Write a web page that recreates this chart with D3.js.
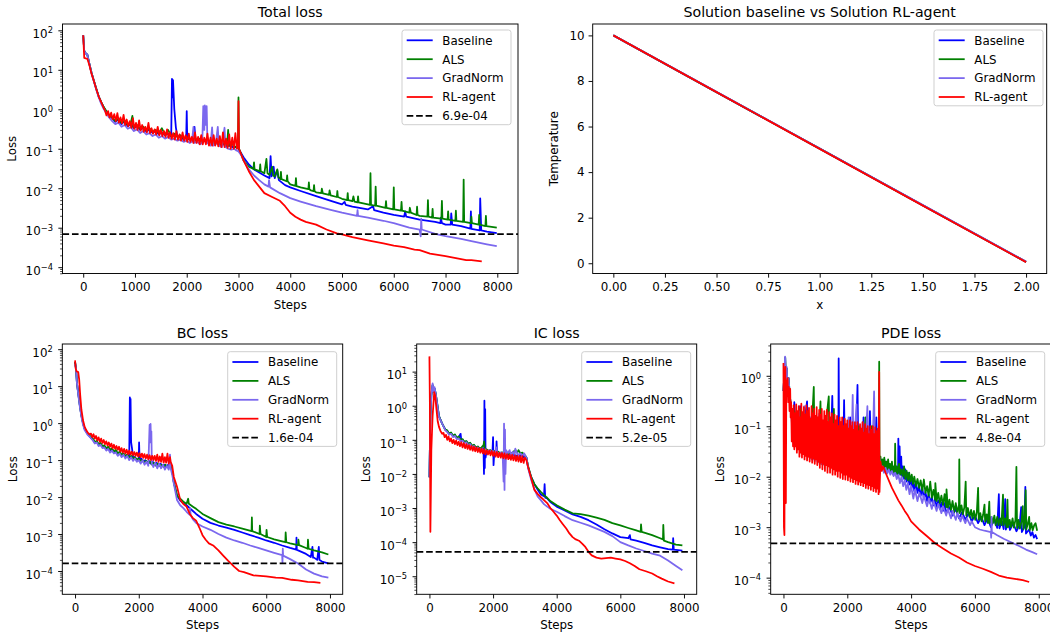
<!DOCTYPE html>
<html><head><meta charset="utf-8">
<script src="https://cdn.jsdelivr.net/npm/d3@7"></script>
<style>
html,body{margin:0;padding:0;background:#fff;}
svg{display:block;font-family:"DejaVu Sans",sans-serif;}
</style></head><body>
<svg id="chart" width="1050" height="634"></svg>
<script>
// ---------------- DATA ----------------
const seriesNames = ["Baseline", "ALS", "GradNorm", "RL-agent"];

// Total loss: [step, loss]
const totalBaseline = [[0,75],[20,30],[50,26],[80,24],[120,14],[160,8.5],[200,5.6],[250,3.4],[300,2.1],[350,1.5],[400,1.1],[450,0.85],[500,0.7],
[560,0.6],[620,0.48],[680,0.55],[740,0.42],[800,0.5],[860,0.37],[920,0.42],[980,0.33],[1040,0.38],[1100,0.3],[1160,0.34],[1220,0.27],[1280,0.31],[1340,0.25],[1400,0.28],[1460,0.23],[1520,0.26],[1580,0.22],[1640,0.24],[1700,0.2],[1715,5.9],[1725,2.0],[1735,5.5],[1760,1.0],[1790,0.35],[1820,0.2],[1880,0.2],[1940,0.17],[1990,0.19],[2000,0.9],[2010,0.17],[2060,0.18],[2120,0.16],[2150,0.36],[2170,0.16],[2230,0.17],[2290,0.15],[2350,0.16],[2410,0.14],[2470,0.15],[2530,0.13],[2590,0.14],[2650,0.12],[2710,0.13],[2770,0.115],[2830,0.12],[2890,0.11],[2950,0.11],[3000,0.1],
[3100,0.06],[3200,0.04],[3300,0.03],[3400,0.025],[3500,0.021],[3600,0.018],[3620,0.065],[3640,0.02],[3680,0.035],[3700,0.018],[3750,0.028],[3780,0.016],[3900,0.012],[4000,0.0105],[4200,0.0085],[4500,0.0063],[4800,0.0047],[5000,0.0039],[5050,0.0045],[5070,0.0038],[5200,0.0034],[5500,0.0029],[5600,0.0035],[5620,0.0028],[5800,0.0024],[6000,0.0021],[6200,0.0019],[6220,0.0026],[6240,0.0019],[6500,0.0016],[6800,0.0014],[6900,0.0013],[6910,0.0018],[6930,0.0013],[7000,0.0012],[7100,0.0012],[7110,0.0023],[7130,0.0012],[7300,0.0011],[7480,0.00095],[7490,0.0026],[7500,0.00093],[7660,0.00085],[7670,0.0055],[7690,0.00085],[7800,0.0008],[7990,0.00073]];

const totalALS = [[0,75],[20,30],[50,26],[80,24],[120,14],[160,8.5],[200,5.6],[250,3.4],[300,2.1],[350,1.5],[400,1.12],[450,0.88],[500,0.72],
[560,0.62],[620,0.5],[680,0.58],[740,0.45],[800,0.52],[860,0.4],[920,0.45],[950,0.68],[970,0.35],[1040,0.4],[1100,0.32],[1160,0.36],[1220,0.29],[1280,0.33],[1340,0.27],[1400,0.3],[1460,0.25],[1520,0.33],[1580,0.23],[1640,0.3],[1700,0.21],[1760,0.24],[1820,0.2],[1880,0.22],[1940,0.18],[2000,0.2],[2060,0.17],[2120,0.19],[2180,0.16],[2240,0.18],[2300,0.15],[2360,0.17],[2420,0.14],[2480,0.16],[2540,0.13],[2600,0.15],[2660,0.13],[2720,0.14],[2780,0.12],[2800,0.3],[2820,0.12],[2880,0.13],[2940,0.11],[2990,0.12],[3000,2.0],[3010,0.1],
[3100,0.05],[3200,0.035],[3290,0.031],[3300,0.045],[3310,0.03],[3410,0.027],[3420,0.04],[3430,0.027],[3500,0.024],[3540,0.055],[3560,0.024],[3600,0.022],[3650,0.035],[3670,0.021],[3700,0.02],[3750,0.03],[3770,0.019],[3800,0.018],[3810,0.017],[3820,0.026],[3830,0.017],[3930,0.015],[3940,0.021],[3950,0.015],[4000,0.0125],[4100,0.0115],[4110,0.018],[4120,0.0113],[4200,0.0105],[4350,0.0095],[4360,0.014],[4370,0.0094],[4400,0.0088],[4450,0.0085],[4460,0.012],[4470,0.0084],[4500,0.0079],[4600,0.0075],[4610,0.0097],[4630,0.0074],[4750,0.0068],[4760,0.0088],[4780,0.0066],[4900,0.006],[4910,0.0085],[4920,0.006],[5000,0.0054],[5100,0.005],[5110,0.0075],[5120,0.005],[5200,0.0047],[5220,0.0062],[5240,0.0046],[5300,0.0044],[5310,0.0062],[5320,0.0044],[5500,0.0039],[5540,0.0038],[5550,0.024],[5560,0.0038],[5640,0.0036],[5650,0.011],[5660,0.0036],[5840,0.0032],[5850,0.0047],[5860,0.0032],[5990,0.0029],[6000,0.0105],[6010,0.0029],[6140,0.0027],[6150,0.0045],[6160,0.0027],[6300,0.0024],[6310,0.0032],[6330,0.0024],[6440,0.0021],[6450,0.0034],[6460,0.0021],[6500,0.002],[6650,0.0019],[6660,0.005],[6670,0.0019],[6740,0.0018],[6750,0.003],[6760,0.0018],[6920,0.0017],[6930,0.0048],[6940,0.0017],[7040,0.0016],[7050,0.0026],[7060,0.0016],[7190,0.0015],[7200,0.0027],[7210,0.0015],[7340,0.0014],[7350,0.0166],[7360,0.0014],[7490,0.0013],[7500,0.0019],[7510,0.0013],[7640,0.0012],[7650,0.0021],[7660,0.0012],[7770,0.0011],[7780,0.002],[7790,0.0011],[7990,0.001]];

const totalGradNorm = [[0,75],[20,30],[50,26],[80,24],[120,14],[160,8.3],[200,5.4],[250,3.2],[300,2.0],[350,1.35],[400,1.0],[450,0.78],[500,0.62],
[560,0.5],[620,0.42],[680,0.46],[740,0.36],[800,0.4],[860,0.32],[920,0.35],[980,0.28],[1040,0.31],[1100,0.25],[1160,0.28],[1220,0.23],[1280,0.25],[1340,0.21],[1400,0.23],[1460,0.19],[1520,0.21],[1580,0.18],[1640,0.2],[1700,0.17],[1760,0.18],[1820,0.16],[1880,0.17],[1940,0.15],[2000,0.16],[2060,0.14],[2100,0.15],[2130,0.36],[2150,0.14],[2200,0.15],[2260,0.13],[2300,0.14],[2320,1.2],[2340,0.3],[2350,1.25],[2370,0.4],[2385,1.2],[2400,0.14],[2460,0.12],[2490,0.35],[2510,0.12],[2560,0.13],[2600,0.36],[2620,0.12],[2680,0.11],[2730,0.34],[2750,0.11],[2800,0.1],[2860,0.095],[2920,0.1],[2960,0.09],[3000,0.085],
[3050,0.07],[3100,0.05],[3200,0.03],[3300,0.021],[3400,0.016],[3500,0.0125],[3580,0.011],[3590,0.016],[3610,0.0105],[3800,0.0075],[4000,0.0056],[4200,0.0046],[4500,0.0035],[4800,0.0028],[5000,0.0024],[5290,0.002],[5300,0.0028],[5310,0.002],[5500,0.0018],[5800,0.0015],[6000,0.0013],[6300,0.001],[6500,0.0009],[6520,0.0006],[6530,0.0017],[6540,0.0009],[6800,0.0007],[7000,0.00061],[7300,0.00052],[7500,0.00046],[7800,0.00038],[7990,0.00034]];

const totalRL = [[0,75],[20,20],[80,19],[120,13],[160,8],[200,5.5],[250,3.3],[300,2.1],[350,1.5],[400,1.05],
[420,0.95],[450,0.7],[480,0.9],[510,0.62],[540,0.82],[570,0.56],[600,0.75],[630,0.5],[660,0.8],[690,0.46],[720,0.62],[750,0.44],[780,0.72],[810,0.4],[840,0.55],[870,0.37],[900,0.5],[930,0.34],[960,0.6],[990,0.32],[1020,0.45],[1050,0.3],[1080,0.52],[1110,0.29],[1140,0.4],[1170,0.27],[1200,0.36],[1230,0.26],[1260,0.45],[1290,0.25],[1320,0.33],[1350,0.24],[1380,0.31],[1410,0.23],[1440,0.36],[1470,0.22],[1500,0.3],[1530,0.21],[1560,0.28],[1590,0.2],[1620,0.31],[1650,0.19],[1680,0.26],[1710,0.18],[1740,0.25],[1770,0.17],[1800,0.28],[1830,0.17],[1860,0.23],[1890,0.16],[1920,0.26],[1950,0.16],[1980,0.22],[2010,0.15],[2040,0.24],[2070,0.15],[2100,0.2],[2130,0.14],[2160,0.26],[2190,0.14],[2220,0.2],[2250,0.13],[2280,0.22],[2310,0.13],[2340,0.19],[2370,0.13],[2400,0.24],[2430,0.12],[2460,0.19],[2490,0.12],[2520,0.22],[2550,0.12],[2580,0.18],[2610,0.115],[2640,0.21],[2670,0.11],[2700,0.26],[2730,0.11],[2760,0.18],[2790,0.105],[2820,0.23],[2850,0.1],[2880,0.19],[2910,0.1],[2940,0.25],[2970,0.1],[2990,0.13],
[3000,1.6],[3010,0.1],[3100,0.05],[3200,0.027],[3300,0.016],[3400,0.011],[3500,0.0075],[3650,0.006],[3800,0.0048],[3900,0.0035],[4000,0.0024],[4100,0.0019],[4200,0.0016],[4300,0.0014],[4500,0.0012],[4700,0.0009],[4900,0.00072],[5000,0.00068],[5200,0.00058],[5500,0.00048],[5800,0.0004],[6000,0.00035],[6200,0.00032],[6400,0.00028],[6500,0.00027],[6700,0.00022],[7000,0.00019],[7200,0.00017],[7400,0.00015],[7500,0.00015],[7700,0.00014]];
const totalThreshold = 6.9e-4;

// Solution: x vs temperature
const solX = [0, 0.5, 1.0, 1.5, 2.0];
const solBaseline = [10.0, 7.51, 5.03, 2.54, 0.06];
const solALS = [10.0, 7.51, 5.03, 2.54, 0.06];
const solGradNorm = [10.0, 7.52, 5.04, 2.55, 0.07];
const solRL = [10.0, 7.51, 5.02, 2.53, 0.05];

// BC loss
const bcBaseline = [[0,45],[30,30],[60,12],[100,6.5],[150,3],[200,1.6],[250,1.0],[300,0.7],[400,0.5],[500,0.4],
[560,0.36],[620,0.3],[680,0.32],[740,0.26],[800,0.28],[860,0.23],[920,0.24],[980,0.2],[1040,0.22],[1100,0.18],[1160,0.2],[1220,0.16],[1280,0.18],[1340,0.15],[1400,0.16],[1460,0.13],[1520,0.15],[1580,0.12],[1640,0.14],[1700,0.12],[1720,5],[1732,0.6],[1742,4.5],[1760,0.3],[1790,0.2],[1820,0.12],[1880,0.12],[1940,0.1],[2000,0.11],[2010,0.3],[2025,0.1],[2080,0.11],[2140,0.09],[2200,0.1],[2260,0.085],[2320,0.095],[2380,0.08],[2440,0.09],[2500,0.075],[2560,0.085],[2620,0.07],[2680,0.08],[2740,0.07],[2800,0.075],[2860,0.065],[2920,0.075],[2980,0.07],[3000,0.08],
[3050,0.05],[3100,0.025],[3200,0.011],[3300,0.008],[3400,0.0068],[3500,0.006],[3600,0.005],[3700,0.0042],[3800,0.0035],[4000,0.0026],[4250,0.002],[4500,0.0017],[4750,0.0015],[5000,0.0013],[5250,0.0011],[5500,0.00093],[5750,0.0008],[6000,0.00067],[6250,0.00058],[6500,0.00049],[6750,0.00042],[6940,0.00038],[6950,0.0008],[6960,0.00037],[7000,0.00036],[7250,0.00029],[7400,0.00024],[7450,0.00045],[7470,0.00023],[7500,0.00023],[7600,0.0002],[7650,0.00045],[7670,0.0002],[7750,0.00018],[7950,0.00016]];

const bcALS = [[0,45],[30,30],[60,12],[100,6.5],[150,3],[200,1.6],[250,1.0],[300,0.72],[400,0.52],[500,0.42],
[560,0.38],[620,0.31],[680,0.33],[740,0.27],[800,0.29],[860,0.24],[920,0.25],[980,0.21],[1040,0.23],[1100,0.19],[1160,0.21],[1220,0.17],[1280,0.19],[1340,0.15],[1400,0.17],[1460,0.14],[1520,0.15],[1580,0.13],[1640,0.14],[1700,0.12],[1760,0.13],[1820,0.11],[1880,0.12],[1940,0.1],[2000,0.11],[2060,0.095],[2120,0.1],[2180,0.085],[2240,0.095],[2300,0.08],[2360,0.09],[2420,0.075],[2480,0.085],[2540,0.07],[2600,0.08],[2660,0.07],[2720,0.075],[2780,0.065],[2840,0.075],[2900,0.065],[2960,0.07],[3000,0.075],
[3050,0.05],[3100,0.025],[3200,0.011],[3300,0.009],[3400,0.0075],[3500,0.0066],[3550,0.009],[3570,0.0066],[3700,0.0055],[3800,0.0048],[4000,0.0035],[4250,0.0027],[4500,0.0021],[4750,0.0018],[5000,0.0016],[5250,0.0014],[5540,0.0012],[5550,0.0028],[5560,0.0012],[5790,0.001],[5800,0.0017],[5820,0.001],[6000,0.00083],[6010,0.0013],[6030,0.00083],[6250,0.00072],[6500,0.00063],[6600,0.0006],[6610,0.0011],[6630,0.0006],[6750,0.00056],[7000,0.0005],[7010,0.0007],[7030,0.0005],[7250,0.00042],[7300,0.0004],[7310,0.0007],[7330,0.0004],[7500,0.00036],[7750,0.00032],[7950,0.00028]];

const bcGradNorm = [[0,40],[30,30],[60,12],[100,6],[150,2.8],[200,1.5],[250,0.9],[300,0.65],[400,0.48],[500,0.39],
[560,0.34],[620,0.28],[680,0.3],[740,0.24],[800,0.26],[860,0.21],[920,0.22],[980,0.18],[1040,0.2],[1100,0.16],[1160,0.18],[1220,0.15],[1280,0.16],[1340,0.13],[1400,0.15],[1460,0.12],[1520,0.14],[1580,0.11],[1640,0.13],[1700,0.1],[1760,0.12],[1820,0.095],[1880,0.11],[1940,0.09],[2000,0.1],[2060,0.08],[2120,0.1],[2180,0.075],[2240,0.09],[2300,0.07],[2340,0.9],[2355,0.3],[2370,0.95],[2385,0.3],[2395,0.6],[2410,0.08],[2460,0.065],[2520,0.085],[2580,0.06],[2640,0.08],[2700,0.06],[2760,0.075],[2820,0.055],[2880,0.07],[2940,0.055],[2980,0.14],[3000,0.06],
[3050,0.04],[3100,0.023],[3200,0.0083],[3300,0.006],[3400,0.005],[3500,0.004],[3600,0.0033],[3610,0.005],[3630,0.0032],[3700,0.0025],[3800,0.002],[4000,0.0016],[4250,0.0013],[4500,0.001],[4750,0.0008],[5000,0.00067],[5250,0.00058],[5500,0.00049],[5750,0.00042],[6000,0.00036],[6250,0.00031],[6500,0.00027],[6510,0.00017],[6520,0.0004],[6530,0.00026],[6750,0.00021],[7000,0.00016],[7250,0.00011],[7500,0.000085],[7750,0.000072],[7950,0.000066]];

const bcRL = [[0,50],[20,30],[50,25],[100,24],[130,15],[160,6],[200,2.3],[250,1.2],[300,0.8],[350,0.65],[400,0.55],[450,0.5],
[500,0.52],[540,0.42],[580,0.5],[620,0.38],[660,0.45],[700,0.34],[740,0.41],[780,0.31],[820,0.38],[860,0.29],[900,0.35],[940,0.27],[980,0.32],[1020,0.25],[1060,0.3],[1100,0.23],[1140,0.28],[1180,0.21],[1220,0.26],[1260,0.2],[1300,0.24],[1340,0.19],[1380,0.23],[1420,0.17],[1460,0.21],[1500,0.16],[1540,0.2],[1580,0.15],[1620,0.19],[1660,0.145],[1700,0.18],[1740,0.14],[1780,0.17],[1820,0.135],[1860,0.165],[1900,0.13],[1940,0.16],[1980,0.125],[2020,0.155],[2060,0.12],[2100,0.15],[2140,0.115],[2180,0.145],[2220,0.11],[2260,0.14],[2300,0.105],[2340,0.135],[2380,0.1],[2420,0.13],[2460,0.1],[2500,0.13],[2540,0.095],[2580,0.14],[2620,0.09],[2660,0.125],[2700,0.09],[2740,0.15],[2780,0.085],[2820,0.12],[2860,0.085],[2900,0.15],[2940,0.08],[2980,0.12],[3000,0.09],
[3050,0.07],[3100,0.035],[3200,0.019],[3300,0.0085],[3400,0.0065],[3500,0.0055],[3600,0.0035],[3700,0.0027],[3800,0.0023],[3900,0.0015],[4000,0.00093],[4100,0.0007],[4200,0.00056],[4350,0.00048],[4500,0.00036],[4650,0.00026],[4800,0.00019],[5000,0.00013],[5150,0.0001],[5300,0.000093],[5600,0.000076],[6000,0.000072],[6300,0.000066],[6500,0.000065],[6800,0.000058],[7000,0.000056],[7300,0.000051],[7500,0.00005],[7700,0.000048]];
const bcThreshold = 1.6e-4;

// IC loss
const icBaseline = [[0,0.008],[30,0.5],[60,2],[100,4],[130,2.5],[160,3.2],[200,2.2],[250,1.0],[300,0.5],[400,0.3],[500,0.2],
[560,0.18],[620,0.15],[680,0.16],[740,0.13],[800,0.14],[860,0.11],[920,0.12],[980,0.15],[1000,0.1],[1040,0.1],[1100,0.085],[1160,0.09],[1220,0.075],[1280,0.08],[1340,0.065],[1400,0.07],[1460,0.058],[1520,0.062],[1580,0.053],[1640,0.057],[1700,0.05],[1715,0.01],[1728,1.4],[1740,0.015],[1752,0.8],[1765,0.03],[1800,0.05],[1860,0.045],[1920,0.048],[1980,0.042],[2000,0.12],[2015,0.018],[2040,0.045],[2100,0.04],[2110,0.09],[2125,0.04],[2180,0.042],[2240,0.038],[2300,0.041],[2360,0.036],[2420,0.04],[2480,0.035],[2540,0.039],[2600,0.034],[2660,0.038],[2720,0.033],[2780,0.037],[2840,0.032],[2900,0.036],[2960,0.031],[3000,0.035],
[3050,0.03],[3100,0.016],[3200,0.008],[3300,0.005],[3400,0.0035],[3500,0.0025],[3600,0.0022],[3620,0.005],[3640,0.002],[3700,0.0019],[3800,0.0015],[4000,0.0011],[4250,0.00085],[4500,0.00065],[4750,0.00055],[5000,0.00044],[5250,0.00033],[5500,0.00024],[5750,0.00018],[6000,0.00014],[6250,0.00013],[6300,0.00016],[6320,0.00012],[6500,0.00011],[6750,0.000095],[7000,0.00008],[7250,0.00007],[7500,0.000062],[7650,0.00006],[7660,0.00013],[7680,0.00006],[7950,0.000056]];

const icALS = [[0,0.008],[30,0.5],[60,2],[100,4],[130,2.5],[160,3.2],[200,2.2],[250,1.1],[300,0.5],[400,0.3],[500,0.2],
[560,0.19],[620,0.15],[680,0.165],[740,0.13],[800,0.145],[860,0.115],[920,0.125],[980,0.1],[1040,0.105],[1100,0.087],[1160,0.092],[1220,0.077],[1280,0.082],[1340,0.067],[1400,0.072],[1460,0.06],[1520,0.064],[1580,0.055],[1640,0.06],[1700,0.07],[1720,0.09],[1740,0.055],[1800,0.052],[1860,0.048],[1920,0.05],[1980,0.045],[2040,0.047],[2100,0.042],[2160,0.045],[2220,0.04],[2280,0.043],[2340,0.039],[2400,0.042],[2460,0.038],[2520,0.041],[2580,0.04],[2640,0.045],[2700,0.05],[2760,0.042],[2800,0.05],[2860,0.04],[2920,0.042],[2980,0.036],[3000,0.035],
[3050,0.03],[3100,0.017],[3200,0.008],[3300,0.005],[3400,0.0038],[3500,0.003],[3600,0.0024],[3700,0.002],[3800,0.0016],[4000,0.0012],[4250,0.0009],[4500,0.0007],[4750,0.00066],[5000,0.0006],[5250,0.00052],[5500,0.00045],[5750,0.00036],[6000,0.00031],[6250,0.00026],[6500,0.00022],[6640,0.0002],[6650,0.00033],[6670,0.0002],[6750,0.00019],[7000,0.00016],[7250,0.00013],[7340,0.00012],[7350,0.00032],[7370,0.00011],[7500,0.0001],[7750,0.000085],[7950,0.00008]];

const icGradNorm = [[0,0.008],[30,0.5],[60,2],[100,4.5],[130,2.5],[160,3.5],[200,2.2],[250,1.0],[300,0.47],[400,0.3],[500,0.19],
[560,0.17],[620,0.14],[680,0.15],[740,0.12],[800,0.13],[860,0.105],[920,0.11],[980,0.09],[1040,0.095],[1100,0.08],[1160,0.085],[1220,0.07],[1280,0.075],[1340,0.062],[1400,0.066],[1460,0.055],[1520,0.06],[1580,0.05],[1640,0.055],[1700,0.047],[1760,0.052],[1820,0.045],[1880,0.05],[1940,0.043],[2000,0.047],[2060,0.04],[2100,0.06],[2120,0.045],[2180,0.038],[2240,0.043],[2300,0.04],[2330,0.006],[2345,0.3],[2360,0.0034],[2375,0.2],[2390,0.01],[2410,0.05],[2460,0.04],[2520,0.05],[2560,0.035],[2620,0.045],[2680,0.036],[2700,0.055],[2740,0.043],[2800,0.035],[2860,0.04],[2920,0.034],[2980,0.04],[3000,0.035],
[3050,0.03],[3100,0.015],[3200,0.0066],[3300,0.0035],[3400,0.0022],[3500,0.0017],[3600,0.0013],[3700,0.0011],[3800,0.00095],[4000,0.00078],[4250,0.00058],[4500,0.00044],[4750,0.00037],[5000,0.00031],[5250,0.00025],[5500,0.0002],[5750,0.00015],[6000,0.0001],[6250,0.00008],[6500,0.000065],[6750,0.000055],[7000,0.000046],[7250,0.00004],[7500,0.000029],[7750,0.00002],[7950,0.000015]];

const icRL = [[0,28],[15,1],[30,0.0002],[45,0.003],[60,0.05],[100,0.5],[150,2.5],[180,2.0],[220,0.8],[260,0.35],[300,0.24],[350,0.18],[400,0.15],
[440,0.16],[480,0.12],[520,0.14],[560,0.1],[600,0.125],[640,0.09],[680,0.11],[720,0.08],[760,0.1],[800,0.075],[840,0.095],[880,0.07],[920,0.088],[960,0.065],[1000,0.085],[1040,0.06],[1080,0.08],[1120,0.057],[1160,0.075],[1200,0.054],[1240,0.07],[1280,0.051],[1320,0.066],[1360,0.048],[1400,0.063],[1440,0.046],[1480,0.06],[1520,0.044],[1560,0.057],[1600,0.042],[1640,0.055],[1680,0.04],[1720,0.053],[1760,0.038],[1800,0.05],[1840,0.037],[1880,0.048],[1920,0.035],[1960,0.047],[2000,0.034],[2040,0.045],[2080,0.032],[2120,0.044],[2160,0.031],[2200,0.042],[2240,0.03],[2280,0.041],[2320,0.029],[2360,0.04],[2400,0.028],[2440,0.038],[2480,0.027],[2520,0.037],[2560,0.026],[2600,0.036],[2640,0.025],[2680,0.035],[2720,0.024],[2760,0.034],[2800,0.023],[2840,0.034],[2880,0.022],[2920,0.033],[2960,0.021],[3000,0.03],
[3050,0.025],[3100,0.016],[3200,0.0074],[3300,0.0034],[3400,0.0026],[3500,0.0021],[3600,0.0017],[3700,0.0014],[3800,0.001],[3900,0.00078],[4000,0.0006],[4100,0.00044],[4200,0.00033],[4300,0.00025],[4400,0.00018],[4500,0.00014],[4600,0.00012],[4700,0.00011],[4800,0.00009],[4900,0.000072],[5000,0.000052],[5100,0.000041],[5250,0.000035],[5400,0.000033],[5550,0.000034],[5700,0.000035],[5850,0.000033],[6000,0.000031],[6150,0.000028],[6300,0.000024],[6450,0.00002],[6600,0.000016],[6800,0.000014],[7000,0.000012],[7150,0.00001],[7300,0.0000085],[7500,0.000007],[7700,0.0000062]];
const icThreshold = 5.2e-5;

// PDE loss
const pdeBaseline = [[0,0.5],[30,1.2],[55,2.3],[75,0.8],[100,1.4],[130,0.6],[160,0.9],[200,0.4],
[250,0.2],[300,0.08],[340,0.3],[380,0.05],[430,0.15],[470,0.04],[520,0.25],[560,0.035],[610,0.1],[650,0.03],[700,0.2],[740,0.31],[770,0.028],[830,0.12],[870,0.025],[930,0.2],[970,0.022],[1030,0.08],[1070,0.02],[1130,0.18],[1170,0.019],[1230,0.07],[1270,0.018],[1330,0.15],[1370,0.018],[1430,0.06],[1470,0.017],[1530,0.4],[1570,0.017],[1630,0.1],[1670,0.017],[1720,0.03],[1730,2.2],[1745,0.05],[1770,0.017],[1830,0.12],[1870,0.017],[1900,0.33],[1930,0.017],[1990,0.08],[2030,0.017],[2090,0.15],[2130,0.017],[2190,0.06],[2230,0.017],[2290,0.12],[2320,0.66],[2350,0.018],[2410,0.08],[2450,0.018],[2510,0.15],[2550,0.018],[2610,0.06],[2650,0.018],[2710,0.2],[2750,0.018],[2810,0.08],[2850,0.019],[2910,0.15],[2950,0.02],[3000,0.025],
[3040,0.015],[3080,0.02],[3120,0.014],[3160,0.022],[3200,0.014],[3240,0.02],[3280,0.013],[3320,0.018],[3360,0.012],[3400,0.017],[3440,0.011],[3480,0.016],[3520,0.011],[3560,0.015],[3590,0.011],[3600,0.057],[3615,0.012],[3640,0.04],[3660,0.011],[3690,0.025],[3710,0.01],[3740,0.016],[3780,0.009],[3820,0.014],[3860,0.008],[3900,0.012],[3940,0.007],[3980,0.01],[4020,0.006],[4060,0.009],[4100,0.0052],[4150,0.008],[4200,0.0048],[4250,0.0065],[4300,0.0042],[4350,0.006],[4400,0.0037],[4450,0.005],[4500,0.0033],[4550,0.0045],[4600,0.003],[4650,0.004],[4700,0.0027],[4750,0.0036],[4800,0.0025],[4850,0.0034],[4900,0.0023],[4950,0.0031],[5000,0.0021],[5050,0.003],[5100,0.0019],[5200,0.0025],[5300,0.0017],[5400,0.0023],[5500,0.0015],[5600,0.002],[5700,0.0014],[5800,0.0019],[5900,0.0013],[6000,0.0017],[6100,0.0012],[6200,0.0016],[6300,0.0011],[6400,0.0015],[6500,0.001],[6600,0.0014],[6700,0.00097],[6750,0.0045],[6770,0.00095],[6850,0.0013],[6900,0.00092],[6950,0.0036],[6970,0.0009],[7050,0.0012],[7100,0.00088],[7200,0.0012],[7300,0.00083],[7400,0.0011],[7450,0.0025],[7470,0.0008],[7550,0.001],[7580,0.0063],[7600,0.00075],[7700,0.0009],[7750,0.00068],[7800,0.0008],[7850,0.00062],[7900,0.0007],[7950,0.00058]];

const pdeALS = [[0,0.5],[30,1.2],[55,2.3],[75,0.8],[100,1.4],[130,0.6],[160,0.9],[200,0.4],
[250,0.2],[300,0.08],[350,0.2],[390,0.05],[440,0.12],[480,0.04],[530,0.22],[570,0.035],[620,0.1],[660,0.03],[720,0.18],[760,0.027],[820,0.1],[860,0.024],[920,0.25],[950,0.6],[980,0.022],[1040,0.1],[1080,0.02],[1160,0.31],[1190,0.018],[1250,0.08],[1290,0.017],[1350,0.15],[1420,0.39],[1450,0.016],[1510,0.08],[1550,0.016],[1580,0.22],[1610,0.016],[1670,0.07],[1710,0.016],[1770,0.12],[1810,0.016],[1870,0.06],[1910,0.016],[1970,0.1],[2010,0.016],[2070,0.05],[2110,0.016],[2170,0.12],[2210,0.017],[2270,0.06],[2310,0.017],[2370,0.1],[2410,0.017],[2470,0.05],[2510,0.017],[2570,0.15],[2610,0.018],[2670,0.06],[2710,0.018],[2770,0.1],[2810,0.018],[2870,0.05],[2910,0.019],[2960,0.08],[2990,0.02],[3000,1.9],[3010,0.02],
[3040,0.025],[3070,0.016],[3100,0.022],[3130,0.015],[3160,0.024],[3190,0.014],[3220,0.02],[3250,0.014],[3280,0.022],[3310,0.013],[3340,0.018],[3370,0.013],[3400,0.02],[3430,0.012],[3460,0.016],[3490,0.012],[3500,0.045],[3515,0.012],[3550,0.016],[3580,0.011],[3620,0.018],[3660,0.011],[3700,0.014],[3740,0.01],[3780,0.016],[3820,0.009],[3860,0.013],[3900,0.0085],[3940,0.012],[3980,0.008],[4020,0.011],[4060,0.0072],[4100,0.01],[4150,0.0065],[4200,0.009],[4250,0.006],[4300,0.0085],[4350,0.0053],[4400,0.0088],[4450,0.0048],[4500,0.0065],[4550,0.0042],[4600,0.008],[4650,0.0038],[4700,0.0055],[4750,0.0035],[4760,0.0075],[4800,0.0033],[4850,0.0048],[4900,0.003],[4950,0.0042],[5000,0.0027],[5050,0.0045],[5100,0.0025],[5110,0.0056],[5150,0.0024],[5200,0.0035],[5250,0.0022],[5300,0.0033],[5350,0.002],[5400,0.003],[5450,0.0019],[5500,0.0028],[5510,0.022],[5525,0.0019],[5580,0.0027],[5620,0.0018],[5670,0.0025],[5710,0.008],[5730,0.0017],[5780,0.0024],[5830,0.0016],[5880,0.0022],[5920,0.0015],[5970,0.0021],[6010,0.0014],[6060,0.002],[6100,0.006],[6120,0.0014],[6170,0.0019],[6210,0.0013],[6260,0.0018],[6300,0.0028],[6320,0.0013],[6370,0.0018],[6410,0.0012],[6450,0.0032],[6470,0.0012],[6520,0.0016],[6560,0.0012],[6610,0.0017],[6650,0.0011],[6700,0.0016],[6740,0.0011],[6790,0.0015],[6830,0.0011],[6880,0.0044],[6900,0.0011],[6950,0.0015],[6990,0.001],[7020,0.0035],[7040,0.001],[7090,0.0014],[7130,0.001],[7180,0.0015],[7220,0.00098],[7270,0.0014],[7300,0.0157],[7320,0.00096],[7370,0.0014],[7410,0.00094],[7460,0.0013],[7500,0.0026],[7520,0.00092],[7560,0.0013],[7590,0.0054],[7610,0.0009],[7660,0.0012],[7700,0.0016],[7720,0.00088],[7770,0.0012],[7810,0.00087],[7860,0.0011],[7900,0.0012],[7950,0.00085]];

const pdeGradNorm = [[0,0.5],[30,1.2],[50,2.4],[70,0.8],[100,1.5],[130,0.6],[160,0.9],[200,0.35],
[250,0.15],[300,0.06],[350,0.05],[400,0.12],[430,0.04],[480,0.2],[510,0.035],[560,0.1],[600,0.03],[650,0.25],[680,0.028],[740,0.08],[780,0.025],[840,0.15],[880,0.022],[940,0.06],[980,0.02],[1040,0.12],[1080,0.019],[1140,0.05],[1180,0.018],[1240,0.1],[1280,0.017],[1340,0.04],[1380,0.017],[1440,0.09],[1480,0.016],[1540,0.05],[1580,0.016],[1640,0.12],[1680,0.016],[1740,0.05],[1780,0.016],[1840,0.1],[1880,0.016],[1940,0.04],[1980,0.016],[2040,0.15],[2080,0.016],[2140,0.05],[2170,0.42],[2200,0.02],[2250,0.1],[2290,0.27],[2320,0.017],[2380,0.06],[2420,0.017],[2480,0.12],[2520,0.017],[2580,0.05],[2630,0.25],[2660,0.017],[2720,0.08],[2760,0.017],[2820,0.15],[2840,0.49],[2870,0.018],[2920,0.06],[2960,0.02],[3000,0.025],
[3050,0.013],[3100,0.016],[3150,0.012],[3200,0.015],[3250,0.0115],[3300,0.014],[3350,0.011],[3400,0.013],[3450,0.0103],[3500,0.012],[3550,0.009],[3600,0.011],[3650,0.0075],[3700,0.01],[3750,0.0065],[3800,0.0085],[3850,0.0055],[3900,0.0075],[3950,0.0045],[4000,0.0065],[4070,0.0037],[4120,0.0055],[4200,0.0033],[4260,0.0048],[4350,0.003],[4400,0.0042],[4500,0.0026],[4560,0.0037],[4650,0.0023],[4700,0.0033],[4800,0.0021],[4850,0.0029],[4950,0.0019],[5000,0.0026],[5100,0.0017],[5150,0.0023],[5250,0.0015],[5300,0.0021],[5400,0.0014],[5450,0.0019],[5550,0.0013],[5600,0.0017],[5700,0.0012],[5750,0.0015],[5850,0.0011],[5900,0.0013],[6000,0.001],[6150,0.0009],[6300,0.00085],[6500,0.0008],[6510,0.00062],[6520,0.0016],[6530,0.0008],[6700,0.00069],[6900,0.00059],[7000,0.00055],[7200,0.00048],[7400,0.00042],[7600,0.00036],[7800,0.00032],[7950,0.00029]];

const pdeRL = [[0,1.8],[15,0.001],[30,0.0007],[45,0.8],[60,1.5],[75,0.003],[90,0.8],[110,0.4],[130,0.9],[150,0.3],[170,0.6],[190,0.2],[210,0.55],[225,0.15],
[240,0.3],[260,0.05],[280,0.22],[300,0.04],[320,0.26],[340,0.035],[360,0.18],[380,0.04],[400,0.27],[420,0.03],[440,0.2],[460,0.035],[480,0.25],[500,0.025],[520,0.15],[540,0.03],[560,0.28],[580,0.024],[600,0.19],[620,0.028],[640,0.24],[660,0.022],[680,0.17],[700,0.026],[720,0.26],[740,0.021],[760,0.2],[780,0.025],[800,0.23],[820,0.02],[840,0.14],[860,0.024],[880,0.25],[900,0.019],[920,0.18],[940,0.023],[960,0.22],[980,0.018],[1000,0.16],[1020,0.022],[1040,0.24],[1060,0.017],[1080,0.15],[1100,0.02],[1120,0.21],[1140,0.015],[1160,0.17],[1180,0.019],[1200,0.22],[1220,0.014],[1240,0.13],[1260,0.018],[1280,0.2],[1300,0.013],[1320,0.16],[1340,0.017],[1360,0.21],[1380,0.012],[1400,0.12],[1420,0.016],[1440,0.19],[1460,0.012],[1480,0.15],[1500,0.015],[1520,0.18],[1540,0.011],[1560,0.11],[1580,0.014],[1600,0.17],[1620,0.011],[1640,0.13],[1660,0.013],[1680,0.16],[1700,0.01],[1720,0.1],[1740,0.013],[1760,0.15],[1780,0.0095],[1800,0.12],[1820,0.012],[1840,0.15],[1860,0.009],[1880,0.1],[1900,0.011],[1920,0.14],[1940,0.0088],[1960,0.11],[1980,0.011],[2000,0.13],[2020,0.0085],[2040,0.09],[2060,0.01],[2080,0.13],[2100,0.008],[2120,0.1],[2140,0.0095],[2160,0.12],[2180,0.0078],[2200,0.085],[2220,0.009],[2240,0.12],[2260,0.0072],[2280,0.1],[2300,0.0085],[2320,0.12],[2340,0.007],[2360,0.08],[2380,0.008],[2400,0.11],[2420,0.0068],[2440,0.09],[2460,0.0078],[2480,0.12],[2500,0.0065],[2520,0.075],[2540,0.0075],[2560,0.11],[2580,0.006],[2600,0.09],[2620,0.007],[2640,0.1],[2660,0.0058],[2680,0.07],[2700,0.0068],[2720,0.1],[2740,0.0055],[2760,0.085],[2780,0.0065],[2800,0.1],[2820,0.0052],[2840,0.07],[2860,0.006],[2880,0.095],[2900,0.005],[2920,0.08],[2940,0.0058],[2960,0.09],[2980,0.0045],
[3000,1.2],[3010,0.005],[3040,0.02],[3080,0.013],[3120,0.016],[3160,0.014],[3200,0.012],[3300,0.0085],[3400,0.006],[3500,0.0045],[3600,0.0034],[3700,0.0027],[3800,0.0021],[3900,0.0017],[4000,0.0013],[4250,0.0009],[4500,0.00066],[4750,0.00048],[5000,0.00038],[5250,0.0003],[5500,0.00025],[5750,0.0002],[6000,0.00017],[6250,0.00015],[6500,0.00013],[6750,0.00011],[7000,0.0001],[7250,0.000095],[7500,0.000089],[7700,0.000082]];
const pdeThreshold = 4.8e-4;

const stepTicksTop = [0,1000,2000,3000,4000,5000,6000,7000,8000];
const stepTicksBottom = [0,2000,4000,6000,8000];
const solXTicks = [0,0.25,0.5,0.75,1.0,1.25,1.5,1.75,2.0];
const solYTicks = [0,2,4,6,8,10];

// ---------------- STYLE / LAYOUT ----------------
const seriesColors = ["#0000ff", "#008000", "#7b68ee", "#ff0000"];
const FS = 11.85, TFS = 14.2, LW = 1.78;

const panels = [
  {title:"Total loss", box:[62.5,24,518,273.5], xDom:[-400,8400], yDom:[Math.pow(10,-4.16),Math.pow(10,2.16)], log:true,
   xTicks:stepTicksTop, xFmt:d3.format("d"), series:[totalBaseline,totalALS,totalGradNorm,totalRL], thr:totalThreshold,
   xlabel:"Steps", ylabel:"Loss", ylabX:16, titleY:16.7, xlabY:308.5},
  {title:"Solution baseline vs Solution RL-agent", box:[592.7,24,1046.7,273.5], xDom:[-0.1,2.1], yDom:[-0.45,10.5], log:false,
   xTicks:solXTicks, xFmt:d3.format(".2f"), yTicks:solYTicks, yFmt:d3.format("d"),
   series:[solBaseline,solALS,solGradNorm,solRL].map(v=>v.map((t,i)=>[solX[i],t])), thr:null,
   xlabel:"x", ylabel:"Temperature", ylabX:557.5, titleY:16.7, xlabY:308.5},
  {title:"BC loss", box:[62.3,344,342.7,594.3], xDom:[-400,8400], yDom:[Math.pow(10,-4.63),Math.pow(10,2.14)], log:true,
   xTicks:stepTicksBottom, xFmt:d3.format("d"), series:[bcBaseline,bcALS,bcGradNorm,bcRL], thr:bcThreshold,
   xlabel:"Steps", ylabel:"Loss", ylabX:16.7, titleY:337.7, xlabY:628.5},
  {title:"IC loss", box:[416.7,344,696.7,594.3], xDom:[-400,8400], yDom:[Math.pow(10,-5.53),Math.pow(10,1.81)], log:true,
   xTicks:stepTicksBottom, xFmt:d3.format("d"), series:[icBaseline,icALS,icGradNorm,icRL], thr:icThreshold,
   xlabel:"Steps", ylabel:"Loss", ylabX:370, titleY:337.7, xlabY:628.5},
  {title:"PDE loss", box:[770.7,344,1051.5,594.3], xDom:[-400,8400], yDom:[Math.pow(10,-4.33),Math.pow(10,0.63)], log:true,
   xTicks:stepTicksBottom, xFmt:d3.format("d"), series:[pdeBaseline,pdeALS,pdeGradNorm,pdeRL], thr:pdeThreshold,
   xlabel:"Steps", ylabel:"Loss", ylabX:724, titleY:337.7, xlabY:628.5},
];
const legendBoxes = [[402,30],[934,30],[227.7,351.7],[581.7,351.7],[935.7,351.7]];

function thrLabel(v){
  const s = v.toExponential(1); const [m,e] = s.split("e");
  const sign = e[0]==="-" ? "-" : "+"; const d = e.replace(/[+-]/,"").padStart(2,"0");
  return m + "e" + sign + d;
}

const svg = d3.select("#chart");

panels.forEach((p, pi) => {
  const [x0,y0,x1,y1] = p.box;
  const g = svg.append("g");
  const x = d3.scaleLinear().domain(p.xDom).range([x0,x1]);
  const y = (p.log ? d3.scaleLog() : d3.scaleLinear()).domain(p.yDom).range([y1,y0]);
  const clipId = "clip"+pi;
  svg.append("clipPath").attr("id",clipId).append("rect").attr("x",x0).attr("y",y0).attr("width",x1-x0).attr("height",y1-y0);

  const line = d3.line().x(d=>x(d[0])).y(d=>y(d[1]));
  const lines = g.append("g").attr("clip-path",`url(#${clipId})`);
  p.series.forEach((s,si)=>{
    lines.append("path").attr("d",line(s)).attr("fill","none").attr("stroke",seriesColors[si])
      .attr("stroke-width",LW).attr("stroke-linejoin","round").attr("stroke-linecap","butt");
  });
  if (p.thr !== null) {
    lines.append("line").attr("x1",x0).attr("x2",x1).attr("y1",y(p.thr)).attr("y2",y(p.thr))
      .attr("stroke","#000").attr("stroke-width",LW).attr("stroke-dasharray","6.6,2.85");
  }

  // x axis
  const xa = g.append("g").attr("transform",`translate(0,${y1})`)
    .call(d3.axisBottom(x).tickValues(p.xTicks).tickFormat(p.xFmt).tickSize(4.15).tickPadding(5.3));
  xa.select(".domain").remove();
  xa.selectAll("line").attr("stroke","#000").attr("stroke-width",0.95);
  xa.selectAll("text").attr("font-size",FS).attr("fill","#000").attr("font-family","DejaVu Sans");

  // y axis
  if (p.log) {
    const lo = Math.ceil(Math.log10(p.yDom[0])), hi = Math.floor(Math.log10(p.yDom[1]));
    const majors = d3.range(lo, hi+1).map(k=>Math.pow(10,k));
    const minors = [];
    for (let k=lo-1;k<=hi;k++) for (let m=2;m<=9;m++){const v=m*Math.pow(10,k); if(v>=p.yDom[0]&&v<=p.yDom[1]) minors.push(v);}
    const ym = g.append("g").attr("transform",`translate(${x0},0)`)
      .call(d3.axisLeft(y).tickValues(minors).tickFormat("").tickSize(2.37));
    ym.select(".domain").remove();
    ym.selectAll("line").attr("stroke","#000").attr("stroke-width",0.71);
    const ya = g.append("g").attr("transform",`translate(${x0},0)`)
      .call(d3.axisLeft(y).tickValues(majors).tickFormat("").tickSize(4.15));
    ya.select(".domain").remove();
    ya.selectAll("line").attr("stroke","#000").attr("stroke-width",0.95);
    ya.selectAll(".tick").each(function(d){
      const k = Math.round(Math.log10(d));
      const t = d3.select(this).append("text").attr("x",-9.6).attr("y",7.2)
        .attr("text-anchor","end").attr("fill","#000").attr("font-size",FS).attr("font-family","DejaVu Sans");
      t.append("tspan").text("10");
      t.append("tspan").attr("dy",-4.9).attr("font-size",FS*0.7).text((k<0?"\u2212":"")+Math.abs(k));
    });
  } else {
    const ya = g.append("g").attr("transform",`translate(${x0},0)`)
      .call(d3.axisLeft(y).tickValues(p.yTicks).tickFormat(p.yFmt).tickSize(4.15).tickPadding(4));
    ya.select(".domain").remove();
    ya.selectAll("line").attr("stroke","#000").attr("stroke-width",0.95);
    ya.selectAll("text").attr("font-size",FS).attr("fill","#000").attr("font-family","DejaVu Sans");
  }

  // frame
  g.append("rect").attr("x",x0).attr("y",y0).attr("width",x1-x0).attr("height",y1-y0)
    .attr("fill","none").attr("stroke","#000").attr("stroke-width",0.95);

  // title and labels
  g.append("text").attr("x",(x0+x1)/2).attr("y",p.titleY).attr("text-anchor","middle")
    .attr("font-size",TFS).attr("fill","#000").text(p.title);
  g.append("text").attr("x",(x0+x1)/2).attr("y",p.xlabY).attr("text-anchor","middle")
    .attr("font-size",FS).attr("fill","#000").text(p.xlabel);
  g.append("text").attr("transform",`translate(${p.ylabX},${(y0+y1)/2}) rotate(-90)`).attr("text-anchor","middle")
    .attr("font-size",FS).attr("fill","#000").text(p.ylabel);

  // legend
  const entries = seriesNames.map((n,i)=>({label:n, color:seriesColors[i], dash:null}));
  if (p.thr !== null) entries.push({label:thrLabel(p.thr), color:"#000", dash:"6.6,2.85"});
  const [lx,ly] = legendBoxes[pi];
  const lw = 109, lh = 10.3*2 + (entries.length-1)*18.9 - 1.5;
  const lg = g.append("g");
  lg.append("rect").attr("x",lx).attr("y",ly).attr("width",lw).attr("height",lh).attr("rx",2.5)
    .attr("fill","#fff").attr("fill-opacity",0.8).attr("stroke","#cccccc").attr("stroke-width",0.95);
  entries.forEach((e,i)=>{
    const cy = ly + 10.3 + i*18.9;
    lg.append("line").attr("x1",lx+4.7).attr("x2",lx+30.7).attr("y1",cy).attr("y2",cy)
      .attr("stroke",e.color).attr("stroke-width",LW).attr("stroke-dasharray",e.dash);
    lg.append("text").attr("x",lx+40.3).attr("y",cy+4.3).attr("font-size",FS).attr("fill","#000").text(e.label);
  });
});
</script></body></html>
